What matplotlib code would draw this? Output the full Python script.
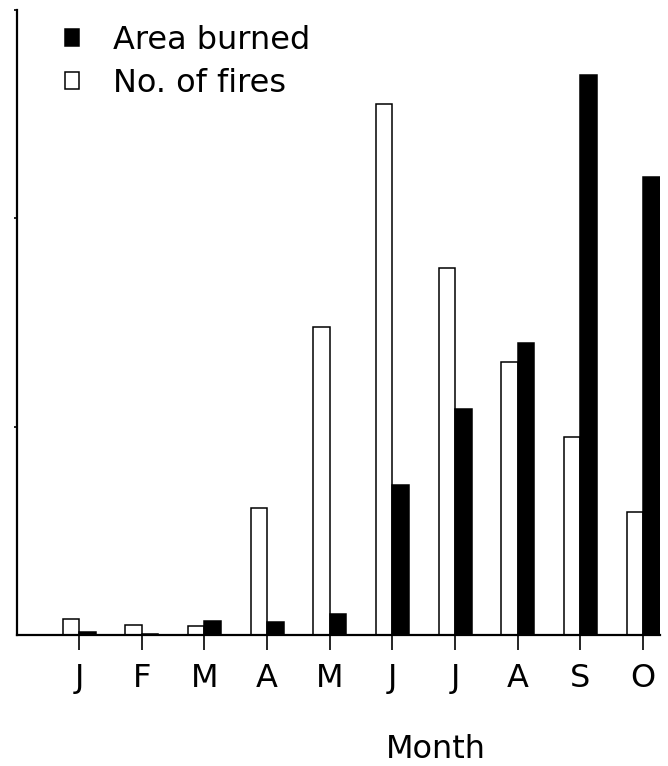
import matplotlib.pyplot as plt
import numpy as np

plt.rcParams['font.family'] = ['DejaVu Sans']

# months Jan..Oct, relative units (left axis has no labels)
months = ['J', 'F', 'M', 'A', 'M', 'J', 'J', 'A', 'S', 'O']
no_of_fires = [0.077, 0.048, 0.043, 0.61, 1.48, 2.55, 1.76, 1.31, 0.95, 0.59]
area_burned = [0.014, 0.005, 0.067, 0.062, 0.10, 0.72, 1.085, 1.40, 2.69, 2.20]

fig = plt.figure(figsize=(6.68, 7.66), dpi=100)
ax = fig.add_axes([17/668, 131/766, 643/668, 625/766])

x = np.arange(len(months))
w = 0.263
ax.bar(x - w/2, no_of_fires, w, color='white', edgecolor='black', linewidth=1.1,
       label='No. of fires')
ax.bar(x + w/2, area_burned, w, color='black', edgecolor='black', linewidth=1.1,
       label='Area burned')

ax.set_xlim(-0.99, 9.27)
ax.set_ylim(0, 3)

for s in ['top', 'right']:
    ax.spines[s].set_visible(False)
for s in ['left', 'bottom']:
    ax.spines[s].set_linewidth(1.6)

ax.set_xticks(x)
ax.set_xticklabels(months, fontsize=23)
ax.tick_params(axis='x', direction='out', length=11, width=1.2, pad=9)
ax.set_yticks([1, 2, 3])
ax.set_yticklabels([])
ax.tick_params(axis='y', direction='out', length=2.5, width=1.2)

ax.set_xlabel('Month', fontsize=23)
ax.xaxis.set_label_coords((436 - 17)/643, -0.158)

h, l = ax.get_legend_handles_labels()
ax.legend(h[::-1], l[::-1], loc='upper left', bbox_to_anchor=(0.074, 0.976),
          frameon=False, fontsize=23, handlelength=0.46, handleheight=0.46,
          handletextpad=1.05, labelspacing=0.38, borderpad=0, borderaxespad=0)

plt.savefig('out.png', dpi=100)
